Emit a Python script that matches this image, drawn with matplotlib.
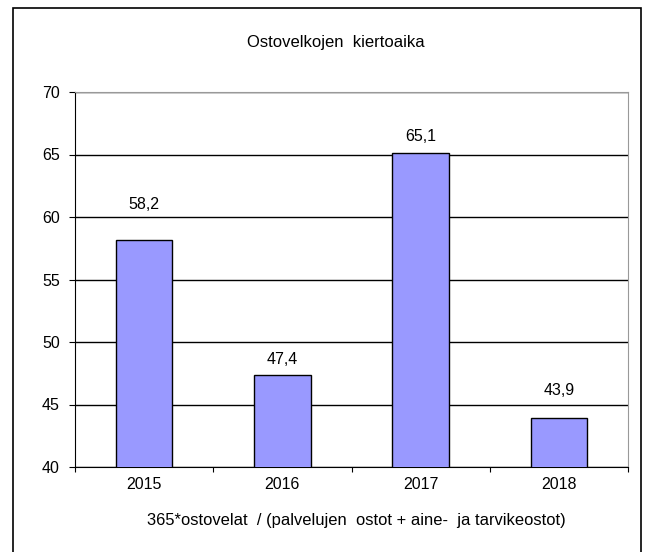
import matplotlib.pyplot as plt
from matplotlib.patches import Rectangle

# Datos del gráfico
vuodet = ['2015', '2016', '2017', '2018']
arvot = [58.2, 47.4, 65.1, 43.9]
otsikko = 'Ostovelkojen  kiertoaika'
selite = '365*ostovelat  / (palvelujen  ostot + aine-  ja tarvikeostot)'

# desplazamiento de cada etiqueta sobre su barra (píxeles)
desplazamientos = [35, 15, 17, 28]

plt.rcParams['font.family'] = ['Liberation Sans', 'DejaVu Sans']

fig = plt.figure(figsize=(6.46, 5.52), dpi=100)
ax = fig.add_axes([75 / 646, 1 - 467 / 552, (628 - 75) / 646, (467 - 92) / 552])

# Marco exterior
fig.patches.append(Rectangle((13 / 646, -0.1), (641 - 13) / 646, 1.1 - 8 / 552,
                             transform=fig.transFigure, fill=False,
                             edgecolor='black', linewidth=1.2))

x = range(len(vuodet))
ax.set_axisbelow(True)
ax.yaxis.grid(True, color='black', linewidth=1)
ax.bar(x, arvot, width=0.41, color='#9999FF', edgecolor='black', linewidth=1, zorder=3)

for xi, v, d in zip(x, arvot, desplazamientos):
    ax.annotate(f'{v:.1f}'.replace('.', ','), (xi, v), xytext=(0, d * 0.72),
                textcoords='offset points', ha='center', va='center', fontsize=11.5)

ax.set_ylim(40, 70)
ax.set_xlim(-0.5, 3.5)
ax.set_yticks(range(40, 71, 5))
ax.set_xticks([-0.5, 0.5, 1.5, 2.5, 3.5])
ax.set_xticklabels([])
ax.set_xticks(list(x), minor=True)
ax.set_xticklabels(vuodet, minor=True, fontsize=11.5)
ax.tick_params(axis='x', which='major', direction='out', length=3.5, color='black')
ax.tick_params(axis='x', which='minor', length=0, pad=7)
ax.tick_params(axis='y', direction='out', length=4, labelsize=11.5, pad=7)

ax.spines['top'].set_color('#999999')
ax.spines['right'].set_color('#999999')
ax.spines['left'].set_color('black')
ax.spines['bottom'].set_color('black')

fig.text(336 / 646, 1 - 42 / 552, otsikko, ha='center', va='center', fontsize=12)
fig.text(356 / 646, 1 - 520 / 552, selite, ha='center', va='center', fontsize=11.9)

fig.savefig('out.png', dpi=100)
